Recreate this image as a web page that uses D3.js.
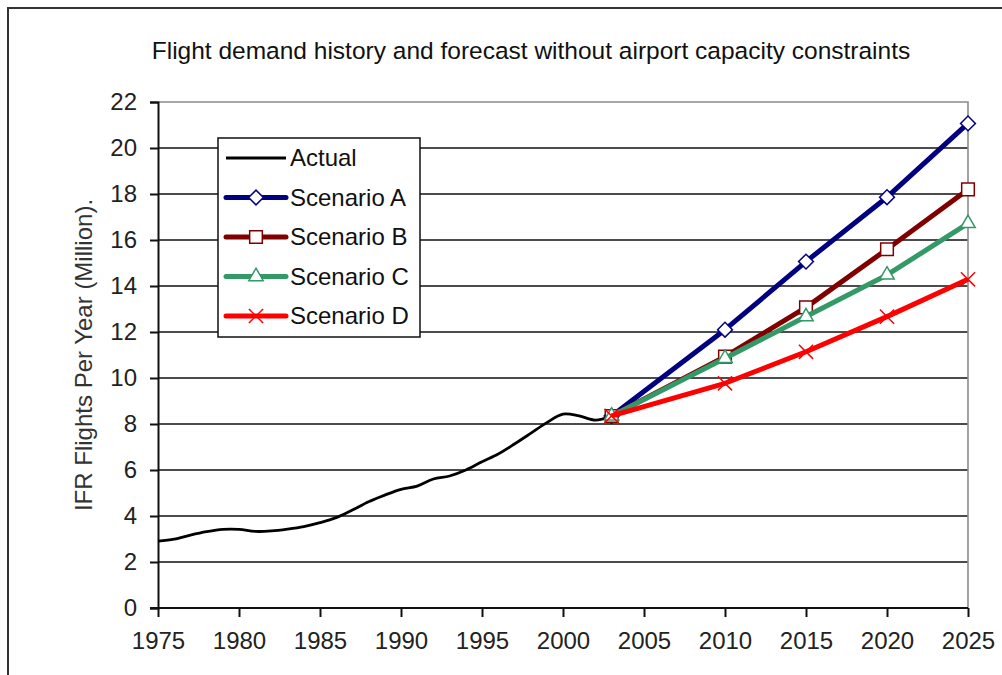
<!DOCTYPE html>
<html>
<head>
<meta charset="utf-8">
<script src="https://cdn.jsdelivr.net/npm/d3@7"></script>
<style>
  body { margin: 0; background: #fff; }
  svg { display: block; font-family: "Liberation Sans", Arial, sans-serif; }
</style>
</head>
<body>
<svg id="chart"></svg>
<script>
// history (million IFR flights per year)
const actualYears = [1975, 1976, 1977, 1978, 1979, 1980, 1981, 1982, 1983, 1984, 1985, 1986, 1987, 1988, 1989,
    1990, 1991, 1992, 1993, 1994, 1995, 1996, 1997, 1998, 1999, 2000, 2001, 2002, 2003];
const actualValues = [2.91, 2.99, 3.17, 3.32, 3.42, 3.42, 3.33, 3.35, 3.43, 3.54, 3.71, 3.93, 4.26, 4.62, 4.91,
    5.16, 5.30, 5.61, 5.74, 6.00, 6.36, 6.70, 7.13, 7.59, 8.06, 8.43, 8.35, 8.17, 8.35];

// forecasts
const forecastYears = [2003, 2010, 2015, 2020, 2025];
const scenarioA = [8.35, 12.1, 15.06, 17.86, 21.07];
const scenarioB = [8.35, 10.93, 13.07, 15.6, 18.2];
const scenarioC = [8.35, 10.86, 12.67, 14.48, 16.72];
const scenarioD = [8.35, 9.77, 11.14, 12.67, 14.29];

const seriesNames = ['Actual', 'Scenario A', 'Scenario B', 'Scenario C', 'Scenario D'];
const yTicks = [0, 2, 4, 6, 8, 10, 12, 14, 16, 18, 20, 22];
const xTicks = [1975, 1980, 1985, 1990, 1995, 2000, 2005, 2010, 2015, 2020, 2025];

const W = 1002, H = 675;
const plot = {left: 158, right: 968, top: 102, bottom: 608};

const svg = d3.select('#chart').attr('width', W).attr('height', H);

// outer chart border (runs off the right/bottom of the picture)
svg.append('rect')
    .attr('x', 8).attr('y', 8).attr('width', 1020).attr('height', 700)
    .attr('fill', '#fff').attr('stroke', '#333').attr('stroke-width', 2);

const xScale = d3.scaleLinear().domain([1975, 2025]).range([plot.left, plot.right]);
const yScale = d3.scaleLinear().domain([0, 22]).range([plot.bottom, plot.top]);

// title
svg.append('text')
    .attr('x', 531).attr('y', 59)
    .attr('text-anchor', 'middle')
    .style('font-size', '24.5px')
    .attr('fill', '#111')
    .text('Flight demand history and forecast without airport capacity constraints');

// gridlines
svg.append('g')
    .selectAll('line')
    .data(yTicks.filter(t => t > 0 && t < 22))
    .enter().append('line')
    .attr('x1', plot.left).attr('x2', plot.right)
    .attr('y1', d => yScale(d)).attr('y2', d => yScale(d))
    .attr('stroke', '#111').attr('stroke-width', 1.6);

// plot area frame, top and right
svg.append('path')
    .attr('d', `M${plot.left},${plot.top}H${plot.right}V${plot.bottom}`)
    .attr('fill', 'none').attr('stroke', '#8c8c8c').attr('stroke-width', 1.6);

// axes
const yAxis = svg.append('g')
    .attr('transform', `translate(${plot.left},0)`)
    .call(d3.axisLeft(yScale).tickValues(yTicks).tickSize(8).tickPadding(13));
const xAxis = svg.append('g')
    .attr('transform', `translate(0,${plot.bottom})`)
    .call(d3.axisBottom(xScale).tickValues(xTicks).tickFormat(d3.format('d')).tickSize(9).tickPadding(15));

[yAxis, xAxis].forEach(ax => {
    ax.select('.domain').attr('stroke', '#111').attr('stroke-width', 2);
    ax.selectAll('.tick line').attr('stroke', '#111').attr('stroke-width', 2);
    ax.selectAll('.tick text').style('font-size', '24px').attr('fill', '#222')
        .style('font-family', '"Liberation Sans", Arial, sans-serif');
});
// extend the x domain line slightly left like the y tick
xAxis.select('.domain').attr('d', `M${plot.left - 8},0H${plot.right}`);

// y axis title
svg.append('text')
    .attr('transform', `translate(92, ${(plot.top + plot.bottom) / 2}) rotate(-90)`)
    .attr('text-anchor', 'middle')
    .style('font-size', '24px')
    .attr('fill', '#333')
    .text('IFR Flights Per Year (Million).');

// X marker as a custom symbol
const symbolX = {
    draw(context, size) {
        const r = Math.sqrt(size) / 2;
        context.moveTo(-r, -r); context.lineTo(r, r);
        context.moveTo(-r, r); context.lineTo(r, -r);
    }
};

const series = [
    {name: seriesNames[1], values: scenarioA, color: '#000080', symbol: d3.symbolSquare, size: 110, rotate: 45, fill: '#fff'},
    {name: seriesNames[2], values: scenarioB, color: '#800000', symbol: d3.symbolSquare, size: 160, rotate: 0, fill: '#fff'},
    {name: seriesNames[3], values: scenarioC, color: '#339966', symbol: d3.symbolTriangle, size: 90, rotate: 0, fill: '#fff'},
    {name: seriesNames[4], values: scenarioD, color: '#ff0000', symbol: symbolX, size: 200, rotate: 0, fill: 'none'}
];

// actual, smoothed
const actualLine = d3.line()
    .x((d, i) => xScale(actualYears[i]))
    .y(d => yScale(d))
    .curve(d3.curveCatmullRom.alpha(0.5));

svg.append('path')
    .datum(actualValues)
    .attr('d', actualLine)
    .attr('fill', 'none').attr('stroke', '#000').attr('stroke-width', 2.8);

const forecastLine = d3.line()
    .x((d, i) => xScale(forecastYears[i]))
    .y(d => yScale(d));

series.forEach(s => {
    svg.append('path')
        .datum(s.values)
        .attr('d', forecastLine)
        .attr('fill', 'none').attr('stroke', s.color).attr('stroke-width', 5)
        .attr('stroke-linejoin', 'round');

    svg.append('g')
        .selectAll('path')
        .data(s.values)
        .enter().append('path')
        .attr('d', d3.symbol().type(s.symbol).size(s.size))
        .attr('transform', (d, i) => `translate(${xScale(forecastYears[i])},${yScale(d)}) rotate(${s.rotate})`)
        .attr('fill', s.fill).attr('stroke', s.color).attr('stroke-width', 1.5);
});

// legend
const legend = svg.append('g').attr('transform', 'translate(218,138)');
legend.append('rect')
    .attr('width', 202).attr('height', 199)
    .attr('fill', '#fff').attr('stroke', '#111').attr('stroke-width', 1.5);

const legendItems = [{name: seriesNames[0], color: '#000'}].concat(series);
const rowY = d3.scalePoint().domain(seriesNames).range([20, 178]);

const rows = legend.selectAll('g.row')
    .data(legendItems)
    .enter().append('g')
    .attr('class', 'row')
    .attr('transform', d => `translate(0,${rowY(d.name)})`);

rows.append('line')
    .attr('x1', 8).attr('x2', 68)
    .attr('stroke', d => d.color)
    .attr('stroke-width', (d, i) => i === 0 ? 2.8 : 5)
    .attr('stroke-linecap', (d, i) => i === 0 ? 'butt' : 'round');

rows.filter(d => d.symbol)
    .append('path')
    .attr('d', d => d3.symbol().type(d.symbol).size(d.size)())
    .attr('transform', d => `translate(38,0) rotate(${d.rotate})`)
    .attr('fill', d => d.fill).attr('stroke', d => d.color).attr('stroke-width', 1.5);

rows.append('text')
    .attr('x', 72).attr('dy', '0.35em')
    .style('font-size', '24px')
    .attr('fill', '#111')
    .text(d => d.name);
</script>
</body>
</html>
